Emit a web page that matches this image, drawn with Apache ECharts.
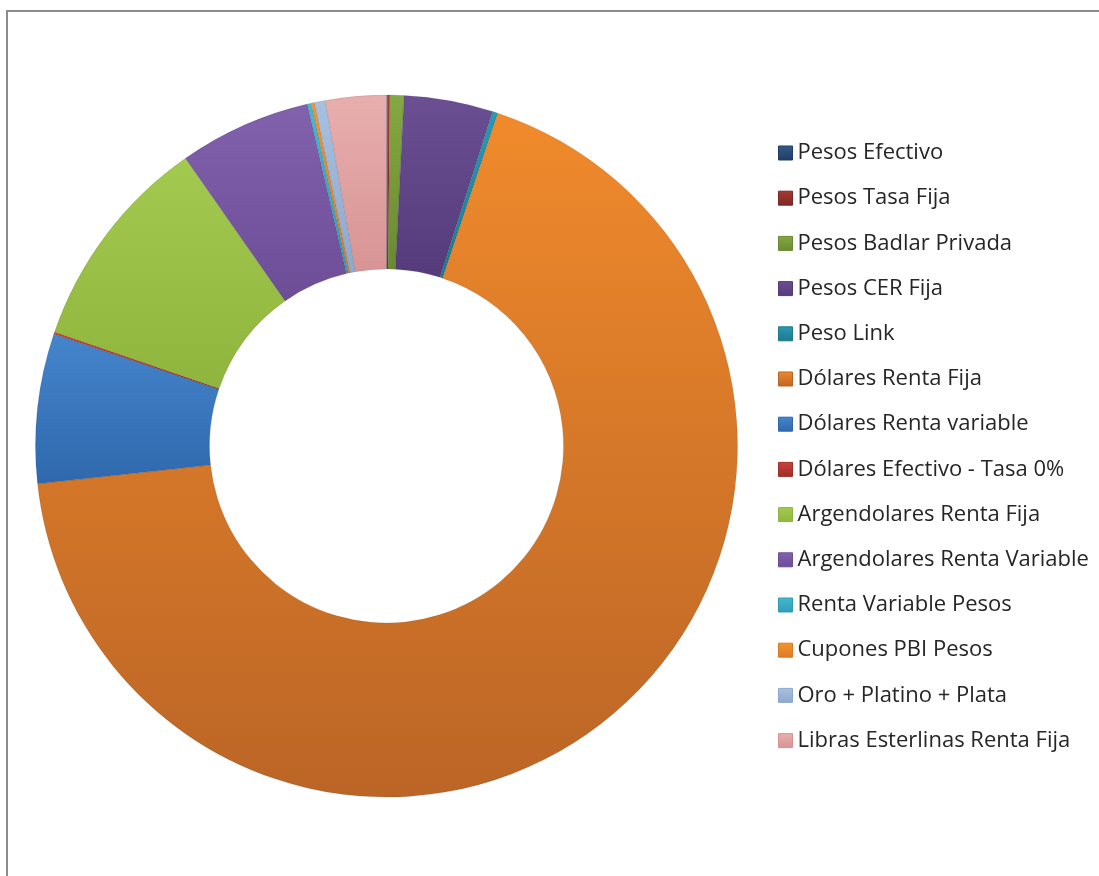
<!DOCTYPE html>
<html>
<head>
<meta charset="utf-8">
<script src="https://cdn.jsdelivr.net/npm/echarts@6/dist/echarts.min.js"></script>
<style>
  html, body { margin: 0; padding: 0; background: #fff; }
  #chart { width: 1099px; height: 876px; }
</style>
</head>
<body>
<div id="chart"></div>
<script>
// categorias y porcentajes (leidos a ojo del grafico)
const categories = [
  'Pesos Efectivo',
  'Pesos Tasa Fija',
  'Pesos Badlar Privada',
  'Pesos CER Fija',
  'Peso Link',
  'Dólares Renta Fija',
  'Dólares Renta variable',
  'Dólares Efectivo - Tasa 0%',
  'Argendolares Renta Fija',
  'Argendolares Renta Variable',
  'Renta Variable Pesos',
  'Cupones PBI Pesos',
  'Oro + Platino + Plata',
  'Libras Esterlinas Renta Fija',
]
const shares = [0.05, 0.1, 0.65, 4.1, 0.25, 68.3, 6.9, 0.1, 10.05, 6.1, 0.18, 0.15, 0.5, 2.8]

// colores: [arriba, abajo] para el degradado de cada porcion
const colorPairs = [
  ['#34598c', '#213d66'],
  ['#a33a36', '#7e2825'],
  ['#84a843', '#6a8a30'],
  ['#6a4f93', '#553b7a'],
  ['#2a9ab2', '#1c7a8e'],
  ['#f08a2c', '#bb6526'],
  ['#4585cc', '#2f68ad'],
  ['#c8423a', '#a02e28'],
  ['#a3c94f', '#8fb53e'],
  ['#8261ad', '#6c4d96'],
  ['#47b8d2', '#2f9cb6'],
  ['#f39433', '#dc7a22'],
  ['#a8c0e0', '#8ea8cc'],
  ['#e8aeae', '#d89494'],
]

const grad = ([a, b]) => new echarts.graphic.LinearGradient(0, 0, 0, 1, [
  { offset: 0, color: a },
  { offset: 1, color: b },
])

const chart = echarts.init(document.getElementById('chart'), null, { renderer: 'canvas' })

chart.setOption({
  animation: false,
  backgroundColor: '#fff',
  graphic: [
    {
      type: 'rect',
      shape: { x: 7, y: 11, width: 1200, height: 1000 },
      style: { fill: 'none', stroke: '#8c8c8c', lineWidth: 2 },
      silent: true,
    },
  ],
  legend: {
    orient: 'vertical',
    left: 773,
    top: 137,
    icon: 'rect',
    itemWidth: 14,
    itemHeight: 14,
    itemGap: 23.2,
    selectedMode: false,
    data: categories.map((name, i) => ({
      name,
      itemStyle: { color: grad(colorPairs[i]), borderColor: colorPairs[i][1], borderWidth: 1 },
    })),
    textStyle: {
      fontFamily: 'Open Sans',
      fontSize: 22,
      lineHeight: 22,
      color: '#262626',
      padding: [0, 0, 0, 0],
    },
  },
  series: [
    {
      type: 'pie',
      center: [386.5, 446],
      radius: [177, 351],
      startAngle: 90,
      clockwise: true,
      minAngle: 0,
      avoidLabelOverlap: false,
      label: { show: false },
      labelLine: { show: false },
      emphasis: { disabled: true },
      itemStyle: { borderColor: 'rgba(0,0,0,0.18)', borderWidth: 0.5 },
      data: categories.map((name, i) => ({
        name,
        value: shares[i],
        itemStyle: { color: grad(colorPairs[i]) },
      })),
    },
  ],
})
</script>
</body>
</html>
